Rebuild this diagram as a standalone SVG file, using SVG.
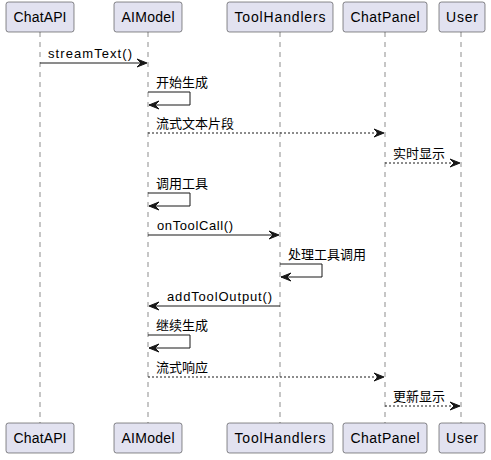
<svg xmlns="http://www.w3.org/2000/svg" width="491" height="460" viewBox="0 0 491 460">
<style>
.box{fill:#E2E2F0;stroke:#181818;stroke-width:0.5}
.pt{font-family:"Liberation Sans",Arial,sans-serif;font-size:14px;fill:#000;text-anchor:middle}
.mt{font-family:"Liberation Sans","Noto Sans CJK SC",sans-serif;font-size:13px;fill:#000}
.life{stroke:#181818;stroke-width:0.5;stroke-dasharray:5,5;fill:none}
.msg{stroke:#181818;stroke-width:1;fill:none}
.dot{stroke:#181818;stroke-width:1;stroke-dasharray:2,2;fill:none}
.head{fill:#181818;stroke:#181818;stroke-width:1}
</style>
<rect width="491" height="460" fill="#FFFFFF"/>
<g id="lifelines">
<line class="life" x1="40" y1="32" x2="40" y2="423"/>
<line class="life" x1="148" y1="32" x2="148" y2="423"/>
<line class="life" x1="280" y1="32" x2="280" y2="423"/>
<line class="life" x1="385" y1="32" x2="385" y2="423"/>
<line class="life" x1="461" y1="32" x2="461" y2="423"/>
</g>
<g id="ChatAPI">
<rect class="box" x="6" y="2" width="68" height="30" rx="2.5"/>
<text class="pt" x="40" y="22" textLength="53" lengthAdjust="spacing">ChatAPI</text>
<rect class="box" x="6" y="423" width="68" height="30" rx="2.5"/>
<text class="pt" x="40" y="443" textLength="53" lengthAdjust="spacing">ChatAPI</text>
</g>
<g id="AIModel">
<rect class="box" x="114" y="2" width="68" height="30" rx="2.5"/>
<text class="pt" x="148" y="22" textLength="53" lengthAdjust="spacing">AIModel</text>
<rect class="box" x="114" y="423" width="68" height="30" rx="2.5"/>
<text class="pt" x="148" y="443" textLength="53" lengthAdjust="spacing">AIModel</text>
</g>
<g id="ToolHandlers">
<rect class="box" x="227" y="2" width="106" height="30" rx="2.5"/>
<text class="pt" x="280" y="22" textLength="91" lengthAdjust="spacing">ToolHandlers</text>
<rect class="box" x="227" y="423" width="106" height="30" rx="2.5"/>
<text class="pt" x="280" y="443" textLength="91" lengthAdjust="spacing">ToolHandlers</text>
</g>
<g id="ChatPanel">
<rect class="box" x="343" y="2" width="84" height="30" rx="2.5"/>
<text class="pt" x="385" y="22" textLength="69" lengthAdjust="spacing">ChatPanel</text>
<rect class="box" x="343" y="423" width="84" height="30" rx="2.5"/>
<text class="pt" x="385" y="443" textLength="69" lengthAdjust="spacing">ChatPanel</text>
</g>
<g id="User">
<rect class="box" x="439" y="2" width="46" height="30" rx="2.5"/>
<text class="pt" x="462" y="22" textLength="32" lengthAdjust="spacing">User</text>
<rect class="box" x="439" y="423" width="46" height="30" rx="2.5"/>
<text class="pt" x="462" y="443" textLength="32" lengthAdjust="spacing">User</text>
</g>
<g id="connectors">
<!-- streamText -->
<line class="msg" x1="40" y1="63" x2="146" y2="63"/>
<polygon class="head" points="137,59 147,63 137,67 141,63"/>
<text class="mt" x="48" y="58" textLength="84" lengthAdjust="spacing">streamText()</text>
<!-- 开始生成 -->
<polyline class="msg" points="148,92 190,92 190,105 149,105"/>
<polygon class="head" points="159,101 149,105 159,109 155,105"/>
<text class="mt" x="156" y="87">开始生成</text>
<!-- 流式文本片段 -->
<line class="dot" x1="148" y1="133" x2="383" y2="133"/>
<polygon class="head" points="374,129 384,133 374,137 378,133"/>
<text class="mt" x="156" y="128">流式文本片段</text>
<!-- 实时显示 -->
<line class="dot" x1="385" y1="163" x2="459" y2="163"/>
<polygon class="head" points="450,159 460,163 450,167 454,163"/>
<text class="mt" x="393" y="158">实时显示</text>
<!-- 调用工具 -->
<polyline class="msg" points="148,193 190,193 190,206 149,206"/>
<polygon class="head" points="159,202 149,206 159,210 155,206"/>
<text class="mt" x="156" y="188">调用工具</text>
<!-- onToolCall -->
<line class="msg" x1="148" y1="235" x2="278" y2="235"/>
<polygon class="head" points="269,231 279,235 269,239 273,235"/>
<text class="mt" x="157" y="230" textLength="76" lengthAdjust="spacing">onToolCall()</text>
<!-- 处理工具调用 -->
<polyline class="msg" points="280,264 322,264 322,277 281,277"/>
<polygon class="head" points="291,273 281,277 291,281 287,277"/>
<text class="mt" x="288" y="259">处理工具调用</text>
<!-- addToolOutput -->
<line class="msg" x1="150" y1="306" x2="280" y2="306"/>
<polygon class="head" points="159,302 149,306 159,310 155,306"/>
<text class="mt" x="167" y="301" textLength="105" lengthAdjust="spacing">addToolOutput()</text>
<!-- 继续生成 -->
<polyline class="msg" points="148,335 190,335 190,348 149,348"/>
<polygon class="head" points="159,344 149,348 159,352 155,348"/>
<text class="mt" x="156" y="330">继续生成</text>
<!-- 流式响应 -->
<line class="dot" x1="148" y1="377" x2="383" y2="377"/>
<polygon class="head" points="374,373 384,377 374,381 378,377"/>
<text class="mt" x="156" y="372">流式响应</text>
<!-- 更新显示 -->
<line class="dot" x1="385" y1="406" x2="459" y2="406"/>
<polygon class="head" points="450,402 460,406 450,410 454,406"/>
<text class="mt" x="393" y="401">更新显示</text>
</g>
</svg>
